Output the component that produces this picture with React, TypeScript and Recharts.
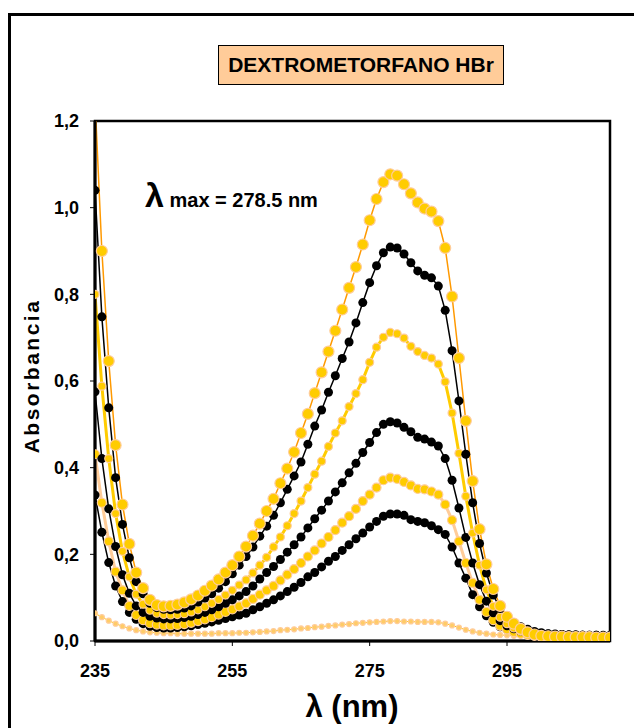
import { LineChart, Line, XAxis, YAxis, ReferenceArea } from "recharts";

const WAVELENGTH = [
  235, 236, 237, 238, 239, 240, 241, 242, 243, 244, 245, 246, 247, 248, 249,
  250, 251, 252, 253, 254, 255, 256, 257, 258, 259, 260, 261, 262, 263, 264,
  265, 266, 267, 268, 269, 270, 271, 272, 273, 274, 275, 276, 277, 278, 279,
  280, 281, 282, 283, 284, 285, 286, 287, 288, 289, 290, 291, 292, 293, 294,
  295, 296, 297, 298, 299, 300, 301, 302, 303, 304, 305, 306, 307, 308, 309, 310,
];

const S1 = [
  1.25, 0.9, 0.646, 0.452, 0.315, 0.224, 0.158, 0.122, 0.095, 0.083, 0.08, 0.081, 0.084, 0.089, 0.096,
  0.105, 0.116, 0.128, 0.142, 0.158, 0.175, 0.195, 0.218, 0.243, 0.271, 0.3, 0.328, 0.364, 0.398, 0.436,
  0.48, 0.524, 0.572, 0.62, 0.668, 0.716, 0.765, 0.815, 0.863, 0.915, 0.971, 1.02, 1.059, 1.077, 1.074,
  1.054, 1.033, 1.012, 0.998, 0.991, 0.969, 0.907, 0.795, 0.653, 0.508, 0.369, 0.258, 0.177, 0.12, 0.081,
  0.056, 0.04, 0.028, 0.02, 0.015, 0.012, 0.011, 0.01, 0.01, 0.009, 0.009, 0.009, 0.009, 0.008, 0.008, 0.008,
];

const S2 = [
  1.04, 0.748, 0.538, 0.377, 0.269, 0.192, 0.137, 0.109, 0.087, 0.077, 0.073, 0.072, 0.073, 0.076, 0.081,
  0.09, 0.099, 0.109, 0.122, 0.137, 0.155, 0.175, 0.195, 0.217, 0.242, 0.265, 0.29, 0.319, 0.35, 0.381,
  0.413, 0.454, 0.496, 0.533, 0.574, 0.612, 0.652, 0.69, 0.734, 0.781, 0.827, 0.866, 0.896, 0.909, 0.907,
  0.893, 0.873, 0.854, 0.844, 0.838, 0.819, 0.763, 0.67, 0.554, 0.431, 0.319, 0.225, 0.157, 0.106, 0.075,
  0.055, 0.042, 0.033, 0.027, 0.022, 0.019, 0.017, 0.016, 0.015, 0.014, 0.013, 0.013, 0.012, 0.012, 0.011, 0.011,
];

const S3 = [
  0.8, 0.588, 0.421, 0.294, 0.207, 0.148, 0.108, 0.085, 0.071, 0.064, 0.061, 0.06, 0.061, 0.063, 0.067,
  0.072, 0.079, 0.087, 0.096, 0.106, 0.117, 0.129, 0.141, 0.157, 0.175, 0.193, 0.217, 0.24, 0.266, 0.294,
  0.323, 0.354, 0.385, 0.415, 0.449, 0.48, 0.508, 0.541, 0.571, 0.603, 0.643, 0.678, 0.701, 0.712, 0.709,
  0.699, 0.68, 0.668, 0.659, 0.653, 0.639, 0.598, 0.526, 0.433, 0.334, 0.249, 0.175, 0.118, 0.08, 0.055,
  0.04, 0.03, 0.023, 0.018, 0.015, 0.013, 0.012, 0.012, 0.011, 0.011, 0.011, 0.01, 0.01, 0.01, 0.01, 0.01,
];

const S4 = [
  0.575, 0.421, 0.305, 0.218, 0.153, 0.11, 0.081, 0.066, 0.057, 0.053, 0.051, 0.051, 0.052, 0.054, 0.057,
  0.061, 0.066, 0.072, 0.079, 0.087, 0.095, 0.104, 0.114, 0.127, 0.143, 0.158, 0.172, 0.188, 0.205, 0.222,
  0.24, 0.261, 0.282, 0.302, 0.323, 0.344, 0.365, 0.388, 0.41, 0.435, 0.458, 0.481, 0.5, 0.506, 0.503,
  0.493, 0.483, 0.47, 0.466, 0.459, 0.45, 0.421, 0.371, 0.307, 0.239, 0.18, 0.13, 0.092, 0.065, 0.047,
  0.035, 0.028, 0.023, 0.02, 0.018, 0.017, 0.016, 0.015, 0.015, 0.014, 0.014, 0.013, 0.013, 0.013, 0.012, 0.012,
];

const S5 = [
  0.431, 0.319, 0.23, 0.16, 0.117, 0.081, 0.06, 0.048, 0.041, 0.038, 0.036, 0.036, 0.037, 0.039, 0.042,
  0.046, 0.05, 0.055, 0.061, 0.067, 0.073, 0.08, 0.087, 0.097, 0.107, 0.117, 0.127, 0.14, 0.153, 0.166,
  0.18, 0.195, 0.209, 0.225, 0.24, 0.256, 0.273, 0.288, 0.305, 0.323, 0.338, 0.354, 0.371, 0.377, 0.374,
  0.367, 0.359, 0.351, 0.35, 0.345, 0.338, 0.315, 0.279, 0.23, 0.18, 0.134, 0.095, 0.067, 0.048, 0.035,
  0.027, 0.021, 0.017, 0.014, 0.012, 0.011, 0.01, 0.01, 0.01, 0.009, 0.009, 0.009, 0.009, 0.009, 0.009, 0.009,
];

const S6 = [
  0.337, 0.251, 0.181, 0.127, 0.091, 0.066, 0.05, 0.04, 0.034, 0.031, 0.03, 0.03, 0.031, 0.033, 0.035,
  0.038, 0.041, 0.044, 0.048, 0.052, 0.056, 0.06, 0.064, 0.072, 0.079, 0.087, 0.095, 0.104, 0.114, 0.124,
  0.135, 0.148, 0.158, 0.171, 0.184, 0.195, 0.209, 0.222, 0.236, 0.249, 0.263, 0.276, 0.288, 0.293, 0.293,
  0.29, 0.28, 0.276, 0.273, 0.266, 0.257, 0.246, 0.217, 0.18, 0.145, 0.107, 0.079, 0.058, 0.043, 0.033,
  0.027, 0.023, 0.02, 0.018, 0.017, 0.016, 0.015, 0.015, 0.014, 0.014, 0.014, 0.013, 0.013, 0.013, 0.013, 0.013,
];

const S7 = [
  0.064, 0.055, 0.047, 0.04, 0.034, 0.029, 0.025, 0.022, 0.02, 0.019, 0.018, 0.018, 0.017, 0.017, 0.017,
  0.017, 0.017, 0.017, 0.018, 0.018, 0.018, 0.019, 0.019, 0.02, 0.021, 0.022, 0.023, 0.025, 0.026, 0.027,
  0.029, 0.03, 0.032, 0.033, 0.035, 0.036, 0.038, 0.039, 0.041, 0.042, 0.043, 0.044, 0.045, 0.046, 0.046,
  0.045, 0.045, 0.044, 0.044, 0.044, 0.043, 0.04, 0.036, 0.031, 0.026, 0.022, 0.019, 0.017, 0.015, 0.014,
  0.013, 0.012, 0.012, 0.011, 0.011, 0.011, 0.011, 0.01, 0.01, 0.01, 0.01, 0.01, 0.01, 0.01, 0.01, 0.01,
];

const X_TICKS = [235, 255, 275, 295];
const Y_TICKS = [0, 0.2, 0.4, 0.6, 0.8, 1.0, 1.2];

const FONT = '"Liberation Sans", Arial, sans-serif';

// drawn bottom first, so the big orange series ends on top
const SERIES = [
  { key: "s7", values: S7, line: "#FFCC00", width: 1, r: 2.5, fill: "#FFCC66", dotStroke: "#FFCC99" },
  { key: "s6", values: S6, line: "#000000", width: 1.5, r: 4.5, fill: "#000000", dotStroke: "none" },
  { key: "s5", values: S5, line: "#FFCC99", width: 3, r: 4.5, fill: "#FFCC00", dotStroke: "#FFCC99" },
  { key: "s4", values: S4, line: "#000000", width: 1.5, r: 4.5, fill: "#000000", dotStroke: "none" },
  { key: "s3", values: S3, line: "#FFCC00", width: 3, r: 4, fill: "#FFCC00", dotStroke: "#FFCC99" },
  { key: "s2", values: S2, line: "#000000", width: 1.5, r: 4.5, fill: "#000000", dotStroke: "none" },
  { key: "s1", values: S1, line: "#FF9900", width: 1.5, r: 5.5, fill: "#FFCC00", dotStroke: "#FFCC99" },
];

export default function App() {
  const data = WAVELENGTH.map((nm, i) => {
    const row: Record<string, number> = { nm };
    SERIES.forEach((s) => (row[s.key] = s.values[i]));
    return row;
  });

  const tickStyle = { fontSize: 18, fontWeight: 700, fill: "#000", fontFamily: FONT };

  return (
    <div
      style={{
        position: "relative",
        width: 634,
        height: 720,
        overflow: "hidden",
        fontFamily: FONT,
        color: "#000",
      }}
    >
      <div
        style={{
          position: "absolute",
          left: 0,
          top: 5,
          width: 700,
          height: 800,
          borderLeft: "3px solid #000",
          borderTop: "3px solid #000",
        }}
      />
      <LineChart
        width={634}
        height={720}
        data={data}
        margin={{ top: 113, right: 32, bottom: 57, left: 27 }}
        style={{ position: "absolute", left: 0, top: 0 }}
      >
        <ReferenceArea
          x1={235}
          x2={310}
          y1={0}
          y2={1.2}
          fill="#ffffff"
          fillOpacity={0}
          stroke="#000"
          strokeWidth={2.5}
        />
        <XAxis
          dataKey="nm"
          type="number"
          domain={[235, 310]}
          ticks={X_TICKS}
          allowDataOverflow
          height={30}
          tick={tickStyle}
          tickSize={5}
          tickMargin={18}
          axisLine={{ stroke: "#000", strokeWidth: 3 }}
          tickLine={{ stroke: "#000", strokeWidth: 1 }}
        />
        <YAxis
          type="number"
          domain={[0, 1.2]}
          ticks={Y_TICKS}
          allowDataOverflow
          width={60}
          tick={tickStyle}
          tickSize={5}
          tickMargin={11}
          tickFormatter={(v: number) => v.toFixed(1).replace(".", ",")}
          axisLine={{ stroke: "#000", strokeWidth: 3 }}
          tickLine={{ stroke: "#000", strokeWidth: 1 }}
        />
        {SERIES.map((s) => (
          <Line
            key={s.key}
            dataKey={s.key}
            type="linear"
            stroke={s.line}
            strokeWidth={s.width}
            dot={{ r: s.r, fill: s.fill, stroke: s.dotStroke, strokeWidth: 1.2, fillOpacity: 1 }}
            activeDot={false}
            isAnimationActive={false}
          />
        ))}
      </LineChart>

      <div
        style={{
          position: "absolute",
          left: 210,
          top: 37,
          width: 286,
          height: 40,
          background: "#FFCC99",
          border: "1px solid #000",
          boxSizing: "border-box",
          display: "flex",
          alignItems: "center",
          justifyContent: "center",
          fontWeight: 700,
          fontSize: 21,
          whiteSpace: "nowrap",
        }}
      >
        DEXTROMETORFANO HBr
      </div>

      <div
        style={{
          position: "absolute",
          left: 137,
          top: 170,
          fontWeight: 700,
          whiteSpace: "nowrap",
          lineHeight: 1,
        }}
      >
        <span style={{ fontSize: 34 }}>λ</span>
        <span style={{ fontSize: 20 }}> max = 278.5 nm</span>
      </div>

      <div
        style={{
          position: "absolute",
          left: 24,
          top: 368,
          transform: "translate(-50%, -50%) rotate(-90deg)",
          fontWeight: 700,
          fontSize: 21,
          whiteSpace: "nowrap",
          letterSpacing: 2.5,
        }}
      >
        Absorbancia
      </div>

      <div
        style={{
          position: "absolute",
          left: 344,
          top: 699,
          transform: "translate(-50%, -50%)",
          fontWeight: 700,
          fontSize: 31,
          whiteSpace: "nowrap",
        }}
      >
        λ (nm)
      </div>
    </div>
  );
}
